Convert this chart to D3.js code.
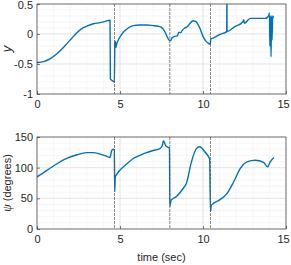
<!DOCTYPE html>
<html>
<head>
<meta charset="utf-8">
<script src="https://cdn.jsdelivr.net/npm/d3@7"></script>
<style>
  body { margin: 0; background: #fff; }
  text { font-family: "Liberation Sans", Arial, sans-serif; fill: #262626; }
</style>
</head>
<body>
<svg id="chart" width="291" height="265"></svg>
<script>
// switch times (dashed lines)
const switchTimes = [4.67, 8.0, 10.45];

// top plot: y
const yTime = [0, 0.4, 0.8, 1.2, 1.5, 1.8, 2.1, 2.4, 2.7, 3.0, 3.4, 3.8, 4.1, 4.4, 4.42, 4.5, 4.66, 4.69, 4.72, 4.76, 4.8, 4.9, 5.0, 5.2, 5.4, 5.6, 5.8, 6.2, 6.6, 7.0, 7.3, 7.5, 7.7, 7.85, 7.95, 8.05, 8.15, 8.3, 8.45, 8.55, 8.65, 8.75, 8.9, 9.05, 9.2, 9.4, 9.55, 9.7, 9.85, 10.0, 10.15, 10.3, 10.44, 10.47, 10.6, 11.0, 11.43, 11.44, 11.45, 11.9, 12.4, 12.45, 12.5, 12.85, 13.3, 13.75, 13.95, 14.0, 14.03, 14.06, 14.1, 14.13, 14.16, 14.2, 14.25];
const yVal  = [-0.475, -0.46, -0.41, -0.33, -0.25, -0.16, -0.07, 0.02, 0.09, 0.13, 0.17, 0.19, 0.21, 0.23, -0.75, -0.77, -0.8, -0.15, -0.12, -0.22, -0.17, -0.1, -0.05, 0.03, 0.08, 0.12, 0.14, 0.15, 0.15, 0.14, 0.13, 0.11, 0.04, -0.05, -0.1, -0.11, -0.06, -0.04, -0.03, 0.03, 0.02, 0.06, 0.1, 0.12, 0.17, 0.22, 0.21, 0.16, 0.07, -0.04, -0.11, -0.15, -0.17, -0.08, -0.07, -0.01, 0.04, 0.7, 0.04, 0.12, 0.2, 0.24, 0.18, 0.26, 0.26, 0.26, 0.3, 0.35, -0.2, 0.3, -0.38, 0.3, -0.1, 0.3, 0.27];

// bottom plot: psi (deg)
const psiTime = [0, 0.4, 0.78, 1.3, 1.79, 2.4, 3.0, 3.4, 3.8, 4.1, 4.4, 4.5, 4.6, 4.66, 4.68, 4.72, 4.8, 5.0, 5.4, 5.8, 6.2, 6.6, 7.0, 7.4, 7.55, 7.62, 7.75, 7.9, 7.98, 8.0, 8.08, 8.4, 8.8, 9.0, 9.3, 9.6, 9.8, 10.1, 10.4, 10.45, 10.5, 10.6, 11.0, 11.45, 11.85, 12.25, 12.65, 13.15, 13.65, 13.9, 14.05, 14.27];
const psiVal  = [85, 92, 99, 108, 115, 121, 124.5, 124.5, 122, 119.5, 116.5, 128, 130, 129, 61, 85, 89, 96, 106, 115, 120, 124.5, 128, 131, 136, 144, 136, 133, 132, 37, 47, 53, 66, 74.5, 109, 131, 134, 126, 114, 28.6, 38, 41, 47.5, 58, 77, 98.8, 109.5, 112, 108.5, 101.5, 109.5, 116.6];

const xTicks = [0, 5, 10, 15];
const yTicks = [-1, -0.5, 0, 0.5];
const psiTicks = [0, 50, 100, 150];

const blue = '#0072BD';
const svg = d3.select('#chart');
const left = 37, right = 286;

const x = d3.scaleLinear().domain([0, 15]).range([left, right]);

function panel(top, bottom, yDomain, yticks, minorStep, tName, vals, ylabel) {
  const y = d3.scaleLinear().domain(yDomain).range([bottom, top]);
  const g = svg.append('g');

  // minor grid
  g.selectAll('.mx').data(d3.range(0, 15.001, 1)).enter().append('line')
    .attr('x1', d => x(d)).attr('x2', d => x(d)).attr('y1', top).attr('y2', bottom)
    .attr('stroke', '#f0f0f0').attr('stroke-width', 0.6);
  g.selectAll('.my').data(d3.range(yDomain[0], yDomain[1] + 1e-9, minorStep)).enter().append('line')
    .attr('x1', left).attr('x2', right).attr('y1', d => y(d)).attr('y2', d => y(d))
    .attr('stroke', '#f0f0f0').attr('stroke-width', 0.6);
  // major grid
  g.selectAll('.gx').data(xTicks).enter().append('line')
    .attr('x1', d => x(d)).attr('x2', d => x(d)).attr('y1', top).attr('y2', bottom)
    .attr('stroke', '#dedede').attr('stroke-width', 0.7);
  g.selectAll('.gy').data(yticks).enter().append('line')
    .attr('x1', left).attr('x2', right).attr('y1', d => y(d)).attr('y2', d => y(d))
    .attr('stroke', '#dedede').attr('stroke-width', 0.7);

  // clip
  const cid = 'clip' + Math.round(top);
  svg.append('clipPath').attr('id', cid).append('rect')
    .attr('x', left).attr('y', top).attr('width', right - left).attr('height', bottom - top);

  const line = d3.line().x((d, i) => x(tName[i])).y(d => y(d)).curve(d3.curveMonotoneX);
  g.append('path').datum(vals).attr('clip-path', `url(#${cid})`)
    .attr('fill', 'none').attr('stroke', blue).attr('stroke-width', 1.4)
    .attr('stroke-linejoin', 'round').attr('d', line);

  // switch lines
  g.selectAll('.sw').data(switchTimes).enter().append('line')
    .attr('x1', d => x(d)).attr('x2', d => x(d)).attr('y1', top).attr('y2', bottom)
    .attr('stroke', '#555').attr('stroke-width', 0.7).attr('stroke-dasharray', '3,1');

  // axes
  const fmt = d => String(d);
  const ax = g.append('g').attr('transform', `translate(0,${bottom})`)
    .call(d3.axisBottom(x).tickValues(xTicks).tickFormat(fmt).tickSize(-3).tickPadding(6));
  const ay = g.append('g').attr('transform', `translate(${left},0)`)
    .call(d3.axisLeft(y).tickValues(yticks).tickFormat(fmt).tickSize(-3).tickPadding(4));
  [ax, ay].forEach(a => {
    a.select('.domain').remove();
    a.selectAll('line').attr('stroke', '#262626').attr('stroke-width', 0.6);
    a.selectAll('text').attr('font-size', 11).attr('fill', '#262626')
      .style('font-family', '"Liberation Sans", Arial, sans-serif');
  });
  // keep the last x label inside the window
  ax.selectAll('text').filter(d => d === 15).attr('dx', -3);
  g.append('rect').attr('x', left).attr('y', top).attr('width', right - left).attr('height', bottom - top)
    .attr('fill', 'none').attr('stroke', '#262626').attr('stroke-width', 0.6);

  const lab = g.append('text').attr('text-anchor', 'middle').attr('font-size', 11)
    .attr('transform', `translate(11,${(top + bottom) / 2}) rotate(-90)`);
  return { y, ay, lab };
}

const p1 = panel(4, 94, [-1, 0.5], yTicks, 0.1, yTime, yVal);
p1.lab.attr('font-style', 'italic').attr('font-family', '"Liberation Serif", serif')
  .attr('font-size', 13).text('y');
p1.ay.selectAll('text').filter(d => d === 0.5).attr('dy', '0.45em');

const p2 = panel(137, 229, [0, 150], psiTicks, 10, psiTime, psiVal);
p2.lab.append('tspan').attr('font-style', 'italic').attr('font-family', '"Liberation Serif", serif')
  .attr('font-size', 12).text('ψ');
p2.lab.append('tspan').text(' (degrees)');

svg.append('text').attr('x', (left + right) / 2).attr('y', 261)
  .attr('text-anchor', 'middle').attr('font-size', 11).text('time (sec)');
</script>
</body>
</html>
